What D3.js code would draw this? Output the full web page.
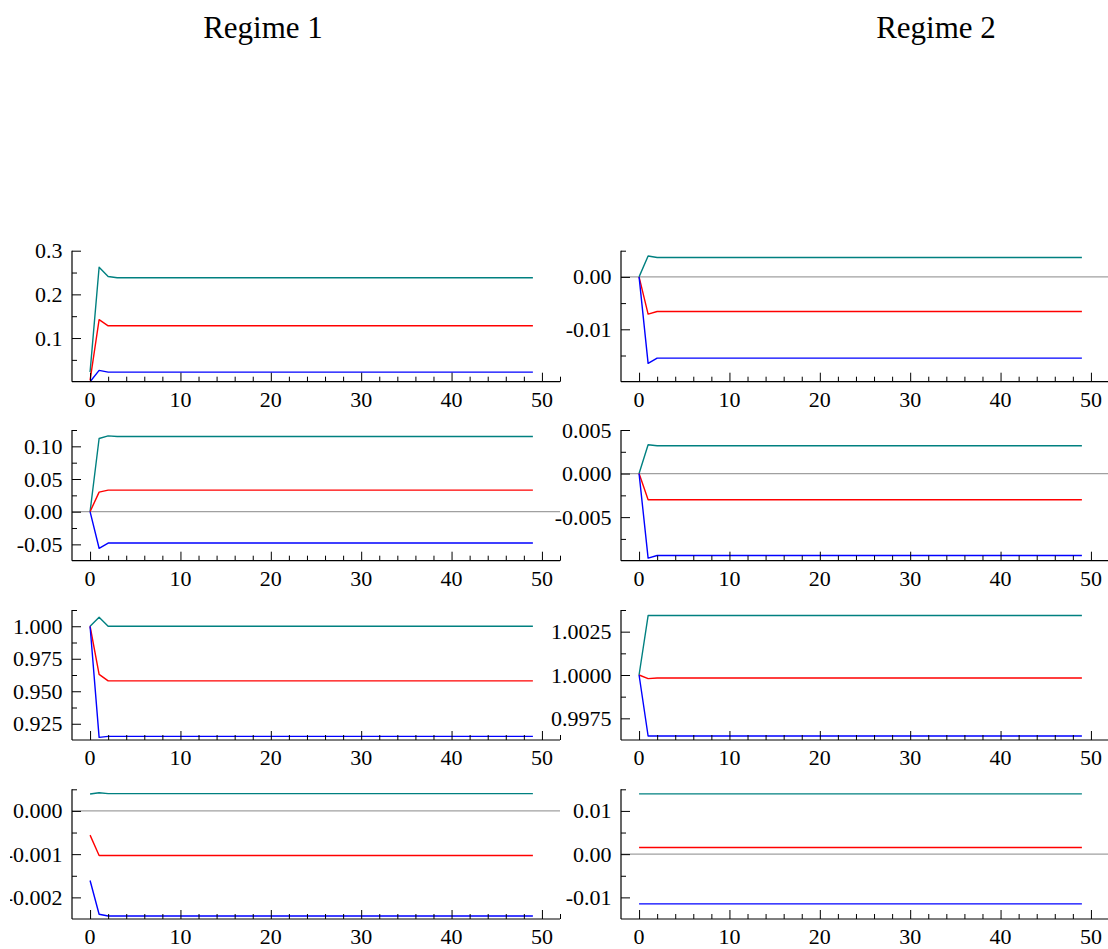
<!DOCTYPE html>
<html>
<head>
<meta charset="utf-8">
<script src="https://cdn.jsdelivr.net/npm/d3@7"></script>
<style>
  html, body { margin: 0; padding: 0; background: #fff; }
  svg { display: block; font-family: "Liberation Serif", "Times New Roman", serif; }
</style>
</head>
<body>
<script>
// ---- data: impulse responses, horizons 0..49 ----
const horizons = d3.range(0, 50);
const columnTitles = ["Regime 1", "Regime 2"];
const seriesNames = ["upper", "mid", "lower"];
const seriesColors = ["#008080", "#ff0000", "#0000ff"];

// Regime 1, row 1
const r1p1Upper = [
  0.022,0.262,0.241,0.238,0.238,0.238,0.238,0.238,0.238,0.238,
  0.238,0.238,0.238,0.238,0.238,0.238,0.238,0.238,0.238,0.238,
  0.238,0.238,0.238,0.238,0.238,0.238,0.238,0.238,0.238,0.238,
  0.238,0.238,0.238,0.238,0.238,0.238,0.238,0.238,0.238,0.238,
  0.238,0.238,0.238,0.238,0.238,0.238,0.238,0.238,0.238,0.238];
const r1p1Mid = [
  0.003,0.142,0.128,0.128,0.128,0.128,0.128,0.128,0.128,0.128,
  0.128,0.128,0.128,0.128,0.128,0.128,0.128,0.128,0.128,0.128,
  0.128,0.128,0.128,0.128,0.128,0.128,0.128,0.128,0.128,0.128,
  0.128,0.128,0.128,0.128,0.128,0.128,0.128,0.128,0.128,0.128,
  0.128,0.128,0.128,0.128,0.128,0.128,0.128,0.128,0.128,0.128];
const r1p1Lower = [
  0.000,0.026,0.022,0.022,0.022,0.022,0.022,0.022,0.022,0.022,
  0.022,0.022,0.022,0.022,0.022,0.022,0.022,0.022,0.022,0.022,
  0.022,0.022,0.022,0.022,0.022,0.022,0.022,0.022,0.022,0.022,
  0.022,0.022,0.022,0.022,0.022,0.022,0.022,0.022,0.022,0.022,
  0.022,0.022,0.022,0.022,0.022,0.022,0.022,0.022,0.022,0.022];

// Regime 1, row 2
const r1p2Upper = [
  0.000,0.112,0.116,0.115,0.115,0.115,0.115,0.115,0.115,0.115,
  0.115,0.115,0.115,0.115,0.115,0.115,0.115,0.115,0.115,0.115,
  0.115,0.115,0.115,0.115,0.115,0.115,0.115,0.115,0.115,0.115,
  0.115,0.115,0.115,0.115,0.115,0.115,0.115,0.115,0.115,0.115,
  0.115,0.115,0.115,0.115,0.115,0.115,0.115,0.115,0.115,0.115];
const r1p2Mid = [
  0.000,0.030,0.033,0.033,0.033,0.033,0.033,0.033,0.033,0.033,
  0.033,0.033,0.033,0.033,0.033,0.033,0.033,0.033,0.033,0.033,
  0.033,0.033,0.033,0.033,0.033,0.033,0.033,0.033,0.033,0.033,
  0.033,0.033,0.033,0.033,0.033,0.033,0.033,0.033,0.033,0.033,
  0.033,0.033,0.033,0.033,0.033,0.033,0.033,0.033,0.033,0.033];
const r1p2Lower = [
  0.000,-0.056,-0.048,-0.048,-0.048,-0.048,-0.048,-0.048,-0.048,-0.048,
  -0.048,-0.048,-0.048,-0.048,-0.048,-0.048,-0.048,-0.048,-0.048,-0.048,
  -0.048,-0.048,-0.048,-0.048,-0.048,-0.048,-0.048,-0.048,-0.048,-0.048,
  -0.048,-0.048,-0.048,-0.048,-0.048,-0.048,-0.048,-0.048,-0.048,-0.048,
  -0.048,-0.048,-0.048,-0.048,-0.048,-0.048,-0.048,-0.048,-0.048,-0.048];

// Regime 1, row 3
const r1p3Upper = [
  1.000,1.007,1.000,1.000,1.000,1.000,1.000,1.000,1.000,1.000,
  1.000,1.000,1.000,1.000,1.000,1.000,1.000,1.000,1.000,1.000,
  1.000,1.000,1.000,1.000,1.000,1.000,1.000,1.000,1.000,1.000,
  1.000,1.000,1.000,1.000,1.000,1.000,1.000,1.000,1.000,1.000,
  1.000,1.000,1.000,1.000,1.000,1.000,1.000,1.000,1.000,1.000];
const r1p3Mid = [
  1.000,0.963,0.958,0.958,0.958,0.958,0.958,0.958,0.958,0.958,
  0.958,0.958,0.958,0.958,0.958,0.958,0.958,0.958,0.958,0.958,
  0.958,0.958,0.958,0.958,0.958,0.958,0.958,0.958,0.958,0.958,
  0.958,0.958,0.958,0.958,0.958,0.958,0.958,0.958,0.958,0.958,
  0.958,0.958,0.958,0.958,0.958,0.958,0.958,0.958,0.958,0.958];
const r1p3Lower = [
  1.0000,0.9145,0.9153,0.9153,0.9153,0.9153,0.9153,0.9153,0.9153,0.9153,
  0.9153,0.9153,0.9153,0.9153,0.9153,0.9153,0.9153,0.9153,0.9153,0.9153,
  0.9153,0.9153,0.9153,0.9153,0.9153,0.9153,0.9153,0.9153,0.9153,0.9153,
  0.9153,0.9153,0.9153,0.9153,0.9153,0.9153,0.9153,0.9153,0.9153,0.9153,
  0.9153,0.9153,0.9153,0.9153,0.9153,0.9153,0.9153,0.9153,0.9153,0.9153];

// Regime 1, row 4
const r1p4Upper = [
  0.00039,0.00042,0.00040,0.00040,0.00040,0.00040,0.00040,0.00040,0.00040,0.00040,
  0.00040,0.00040,0.00040,0.00040,0.00040,0.00040,0.00040,0.00040,0.00040,0.00040,
  0.00040,0.00040,0.00040,0.00040,0.00040,0.00040,0.00040,0.00040,0.00040,0.00040,
  0.00040,0.00040,0.00040,0.00040,0.00040,0.00040,0.00040,0.00040,0.00040,0.00040,
  0.00040,0.00040,0.00040,0.00040,0.00040,0.00040,0.00040,0.00040,0.00040,0.00040];
const r1p4Mid = [
  -0.00056,-0.00103,-0.00103,-0.00103,-0.00103,-0.00103,-0.00103,-0.00103,-0.00103,-0.00103,
  -0.00103,-0.00103,-0.00103,-0.00103,-0.00103,-0.00103,-0.00103,-0.00103,-0.00103,-0.00103,
  -0.00103,-0.00103,-0.00103,-0.00103,-0.00103,-0.00103,-0.00103,-0.00103,-0.00103,-0.00103,
  -0.00103,-0.00103,-0.00103,-0.00103,-0.00103,-0.00103,-0.00103,-0.00103,-0.00103,-0.00103,
  -0.00103,-0.00103,-0.00103,-0.00103,-0.00103,-0.00103,-0.00103,-0.00103,-0.00103,-0.00103];
const r1p4Lower = [
  -0.00161,-0.00239,-0.00243,-0.00243,-0.00243,-0.00243,-0.00243,-0.00243,-0.00243,-0.00243,
  -0.00243,-0.00243,-0.00243,-0.00243,-0.00243,-0.00243,-0.00243,-0.00243,-0.00243,-0.00243,
  -0.00243,-0.00243,-0.00243,-0.00243,-0.00243,-0.00243,-0.00243,-0.00243,-0.00243,-0.00243,
  -0.00243,-0.00243,-0.00243,-0.00243,-0.00243,-0.00243,-0.00243,-0.00243,-0.00243,-0.00243,
  -0.00243,-0.00243,-0.00243,-0.00243,-0.00243,-0.00243,-0.00243,-0.00243,-0.00243,-0.00243];

// Regime 2, row 1
const r2p1Upper = [
  0.0000,0.0040,0.0037,0.0037,0.0037,0.0037,0.0037,0.0037,0.0037,0.0037,
  0.0037,0.0037,0.0037,0.0037,0.0037,0.0037,0.0037,0.0037,0.0037,0.0037,
  0.0037,0.0037,0.0037,0.0037,0.0037,0.0037,0.0037,0.0037,0.0037,0.0037,
  0.0037,0.0037,0.0037,0.0037,0.0037,0.0037,0.0037,0.0037,0.0037,0.0037,
  0.0037,0.0037,0.0037,0.0037,0.0037,0.0037,0.0037,0.0037,0.0037,0.0037];
const r2p1Mid = [
  0.0000,-0.0071,-0.0066,-0.0066,-0.0066,-0.0066,-0.0066,-0.0066,-0.0066,-0.0066,
  -0.0066,-0.0066,-0.0066,-0.0066,-0.0066,-0.0066,-0.0066,-0.0066,-0.0066,-0.0066,
  -0.0066,-0.0066,-0.0066,-0.0066,-0.0066,-0.0066,-0.0066,-0.0066,-0.0066,-0.0066,
  -0.0066,-0.0066,-0.0066,-0.0066,-0.0066,-0.0066,-0.0066,-0.0066,-0.0066,-0.0066,
  -0.0066,-0.0066,-0.0066,-0.0066,-0.0066,-0.0066,-0.0066,-0.0066,-0.0066,-0.0066];
const r2p1Lower = [
  0.0000,-0.0165,-0.0155,-0.0155,-0.0155,-0.0155,-0.0155,-0.0155,-0.0155,-0.0155,
  -0.0155,-0.0155,-0.0155,-0.0155,-0.0155,-0.0155,-0.0155,-0.0155,-0.0155,-0.0155,
  -0.0155,-0.0155,-0.0155,-0.0155,-0.0155,-0.0155,-0.0155,-0.0155,-0.0155,-0.0155,
  -0.0155,-0.0155,-0.0155,-0.0155,-0.0155,-0.0155,-0.0155,-0.0155,-0.0155,-0.0155,
  -0.0155,-0.0155,-0.0155,-0.0155,-0.0155,-0.0155,-0.0155,-0.0155,-0.0155,-0.0155];

// Regime 2, row 2
const r2p2Upper = [
  0.0000,0.0033,0.0032,0.0032,0.0032,0.0032,0.0032,0.0032,0.0032,0.0032,
  0.0032,0.0032,0.0032,0.0032,0.0032,0.0032,0.0032,0.0032,0.0032,0.0032,
  0.0032,0.0032,0.0032,0.0032,0.0032,0.0032,0.0032,0.0032,0.0032,0.0032,
  0.0032,0.0032,0.0032,0.0032,0.0032,0.0032,0.0032,0.0032,0.0032,0.0032,
  0.0032,0.0032,0.0032,0.0032,0.0032,0.0032,0.0032,0.0032,0.0032,0.0032];
const r2p2Mid = [
  0.0000,-0.0030,-0.0030,-0.0030,-0.0030,-0.0030,-0.0030,-0.0030,-0.0030,-0.0030,
  -0.0030,-0.0030,-0.0030,-0.0030,-0.0030,-0.0030,-0.0030,-0.0030,-0.0030,-0.0030,
  -0.0030,-0.0030,-0.0030,-0.0030,-0.0030,-0.0030,-0.0030,-0.0030,-0.0030,-0.0030,
  -0.0030,-0.0030,-0.0030,-0.0030,-0.0030,-0.0030,-0.0030,-0.0030,-0.0030,-0.0030,
  -0.0030,-0.0030,-0.0030,-0.0030,-0.0030,-0.0030,-0.0030,-0.0030,-0.0030,-0.0030];
const r2p2Lower = [
  0.0000,-0.0097,-0.0094,-0.0094,-0.0094,-0.0094,-0.0094,-0.0094,-0.0094,-0.0094,
  -0.0094,-0.0094,-0.0094,-0.0094,-0.0094,-0.0094,-0.0094,-0.0094,-0.0094,-0.0094,
  -0.0094,-0.0094,-0.0094,-0.0094,-0.0094,-0.0094,-0.0094,-0.0094,-0.0094,-0.0094,
  -0.0094,-0.0094,-0.0094,-0.0094,-0.0094,-0.0094,-0.0094,-0.0094,-0.0094,-0.0094,
  -0.0094,-0.0094,-0.0094,-0.0094,-0.0094,-0.0094,-0.0094,-0.0094,-0.0094,-0.0094];

// Regime 2, row 3
const r2p3Upper = [
  1.00000,1.00343,1.00343,1.00343,1.00343,1.00343,1.00343,1.00343,1.00343,1.00343,
  1.00343,1.00343,1.00343,1.00343,1.00343,1.00343,1.00343,1.00343,1.00343,1.00343,
  1.00343,1.00343,1.00343,1.00343,1.00343,1.00343,1.00343,1.00343,1.00343,1.00343,
  1.00343,1.00343,1.00343,1.00343,1.00343,1.00343,1.00343,1.00343,1.00343,1.00343,
  1.00343,1.00343,1.00343,1.00343,1.00343,1.00343,1.00343,1.00343,1.00343,1.00343];
const r2p3Mid = [
  1.00000,0.99979,0.99983,0.99983,0.99983,0.99983,0.99983,0.99983,0.99983,0.99983,
  0.99983,0.99983,0.99983,0.99983,0.99983,0.99983,0.99983,0.99983,0.99983,0.99983,
  0.99983,0.99983,0.99983,0.99983,0.99983,0.99983,0.99983,0.99983,0.99983,0.99983,
  0.99983,0.99983,0.99983,0.99983,0.99983,0.99983,0.99983,0.99983,0.99983,0.99983,
  0.99983,0.99983,0.99983,0.99983,0.99983,0.99983,0.99983,0.99983,0.99983,0.99983];
const r2p3Lower = [
  1.00000,0.99648,0.99648,0.99648,0.99648,0.99648,0.99648,0.99648,0.99648,0.99648,
  0.99648,0.99648,0.99648,0.99648,0.99648,0.99648,0.99648,0.99648,0.99648,0.99648,
  0.99648,0.99648,0.99648,0.99648,0.99648,0.99648,0.99648,0.99648,0.99648,0.99648,
  0.99648,0.99648,0.99648,0.99648,0.99648,0.99648,0.99648,0.99648,0.99648,0.99648,
  0.99648,0.99648,0.99648,0.99648,0.99648,0.99648,0.99648,0.99648,0.99648,0.99648];

// Regime 2, row 4
const r2p4Upper = [
  0.01395,0.01395,0.01395,0.01395,0.01395,0.01395,0.01395,0.01395,0.01395,0.01395,
  0.01395,0.01395,0.01395,0.01395,0.01395,0.01395,0.01395,0.01395,0.01395,0.01395,
  0.01395,0.01395,0.01395,0.01395,0.01395,0.01395,0.01395,0.01395,0.01395,0.01395,
  0.01395,0.01395,0.01395,0.01395,0.01395,0.01395,0.01395,0.01395,0.01395,0.01395,
  0.01395,0.01395,0.01395,0.01395,0.01395,0.01395,0.01395,0.01395,0.01395,0.01395];
const r2p4Mid = [
  0.00154,0.00154,0.00154,0.00154,0.00154,0.00154,0.00154,0.00154,0.00154,0.00154,
  0.00154,0.00154,0.00154,0.00154,0.00154,0.00154,0.00154,0.00154,0.00154,0.00154,
  0.00154,0.00154,0.00154,0.00154,0.00154,0.00154,0.00154,0.00154,0.00154,0.00154,
  0.00154,0.00154,0.00154,0.00154,0.00154,0.00154,0.00154,0.00154,0.00154,0.00154,
  0.00154,0.00154,0.00154,0.00154,0.00154,0.00154,0.00154,0.00154,0.00154,0.00154];
const r2p4Lower = [
  -0.0115,-0.0115,-0.0115,-0.0115,-0.0115,-0.0115,-0.0115,-0.0115,-0.0115,-0.0115,
  -0.0115,-0.0115,-0.0115,-0.0115,-0.0115,-0.0115,-0.0115,-0.0115,-0.0115,-0.0115,
  -0.0115,-0.0115,-0.0115,-0.0115,-0.0115,-0.0115,-0.0115,-0.0115,-0.0115,-0.0115,
  -0.0115,-0.0115,-0.0115,-0.0115,-0.0115,-0.0115,-0.0115,-0.0115,-0.0115,-0.0115,
  -0.0115,-0.0115,-0.0115,-0.0115,-0.0115,-0.0115,-0.0115,-0.0115,-0.0115,-0.0115];

// ---- axis ranges and tick labels ----
const xDomain = [-2, 52];
const xMajorTicks = [0, 10, 20, 30, 40, 50];
const xMinorTicks = [2, 4, 6, 8, 12, 14, 16, 18, 22, 24, 26, 28, 32, 34, 36, 38, 42, 44, 46, 48, 52];

const r1p1Domain = [0, 0.3],        r1p1Ticks = [0.1, 0.2, 0.3],            r1p1Minor = [0.05, 0.15, 0.25],                 r1p1Fmt = ".1f";
const r1p2Domain = [-0.075, 0.125], r1p2Ticks = [-0.05, 0, 0.05, 0.10],      r1p2Minor = [-0.025, 0.025, 0.075, 0.125],      r1p2Fmt = ".2f";
const r1p3Domain = [0.9125, 1.0125],r1p3Ticks = [0.925, 0.95, 0.975, 1.0],   r1p3Minor = [0.9375, 0.9625, 0.9875, 1.0125],   r1p3Fmt = ".3f";
const r1p4Domain = [-0.0025, 0.0005],r1p4Ticks = [-0.002, -0.001, 0],        r1p4Minor = [-0.0015, -0.0005, 0.0005],          r1p4Fmt = ".3f";
const r2p1Domain = [-0.02, 0.005],  r2p1Ticks = [-0.01, 0],                  r2p1Minor = [-0.015, -0.005, 0.005],            r2p1Fmt = ".2f";
const r2p2Domain = [-0.01, 0.005],  r2p2Ticks = [-0.005, 0, 0.005],          r2p2Minor = [-0.0075, -0.0025, 0.0025],         r2p2Fmt = ".3f";
const r2p3Domain = [0.99625, 1.00375], r2p3Ticks = [0.9975, 1.0, 1.0025],    r2p3Minor = [0.99875, 1.00125, 1.00375],        r2p3Fmt = ".4f";
const r2p4Domain = [-0.015, 0.015], r2p4Ticks = [-0.01, 0, 0.01],            r2p4Minor = [-0.005, 0.005, 0.015],             r2p4Fmt = ".2f";

// ---- panel table ----
const panels = [
  {col: 0, row: 0, series: [r1p1Upper, r1p1Mid, r1p1Lower], domain: r1p1Domain, ticks: r1p1Ticks, minor: r1p1Minor, fmt: r1p1Fmt},
  {col: 0, row: 1, series: [r1p2Upper, r1p2Mid, r1p2Lower], domain: r1p2Domain, ticks: r1p2Ticks, minor: r1p2Minor, fmt: r1p2Fmt},
  {col: 0, row: 2, series: [r1p3Upper, r1p3Mid, r1p3Lower], domain: r1p3Domain, ticks: r1p3Ticks, minor: r1p3Minor, fmt: r1p3Fmt},
  {col: 0, row: 3, series: [r1p4Upper, r1p4Mid, r1p4Lower], domain: r1p4Domain, ticks: r1p4Ticks, minor: r1p4Minor, fmt: r1p4Fmt},
  {col: 1, row: 0, series: [r2p1Upper, r2p1Mid, r2p1Lower], domain: r2p1Domain, ticks: r2p1Ticks, minor: r2p1Minor, fmt: r2p1Fmt},
  {col: 1, row: 1, series: [r2p2Upper, r2p2Mid, r2p2Lower], domain: r2p2Domain, ticks: r2p2Ticks, minor: r2p2Minor, fmt: r2p2Fmt},
  {col: 1, row: 2, series: [r2p3Upper, r2p3Mid, r2p3Lower], domain: r2p3Domain, ticks: r2p3Ticks, minor: r2p3Minor, fmt: r2p3Fmt},
  {col: 1, row: 3, series: [r2p4Upper, r2p4Mid, r2p4Lower], domain: r2p4Domain, ticks: r2p4Ticks, minor: r2p4Minor, fmt: r2p4Fmt},
];

// ---- layout ----
const W = 1108, H = 949;
const colX = [[72, 560], [621, 1109]];
const rowY = [[250.7, 381.7], [430, 560.7], [610, 740], [789.3, 919]];
const titleX = [263, 936], titleY = 37.5;
const majorLen = 9, minorLen = 5;
const tickFont = 22;

const svg = d3.select("body").append("svg")
  .attr("width", W).attr("height", H).attr("viewBox", `0 0 ${W} ${H}`);

// the figure is trimmed along its left edge
svg.append("defs").append("clipPath").attr("id", "figClip")
  .append("rect").attr("x", 10).attr("y", 0).attr("width", W - 10).attr("height", H);
const root = svg.append("g").attr("clip-path", "url(#figClip)");

root.selectAll("text.title").data(columnTitles).join("text")
  .attr("class", "title")
  .attr("x", (d, i) => titleX[i]).attr("y", titleY)
  .attr("text-anchor", "middle")
  .attr("font-size", 31).attr("fill", "#000")
  .text(d => d);

panels.forEach(p => {
  const [x0, x1] = colX[p.col];
  const [yTop, yBot] = rowY[p.row];
  const x = d3.scaleLinear().domain(xDomain).range([x0, x1]);
  const y = d3.scaleLinear().domain(p.domain).range([yBot, yTop]);
  const g = root.append("g");

  // zero reference line
  if (p.domain[0] < 0 && p.domain[1] > 0) {
    g.append("line")
      .attr("x1", x0).attr("x2", x1).attr("y1", y(0)).attr("y2", y(0))
      .attr("stroke", "#a0a0a0").attr("stroke-width", 1.2);
  }

  // response paths
  const line = d3.line().x((d, i) => x(horizons[i])).y(d => y(d));
  g.selectAll("path.series").data(p.series).join("path")
    .attr("class", "series")
    .attr("d", line)
    .attr("fill", "none")
    .attr("stroke", (d, i) => seriesColors[i])
    .attr("stroke-width", 1.4)
    .attr("stroke-linejoin", "round");

  // x axis with inward ticks
  const xAxis = d3.axisTop(x).tickValues(xMajorTicks).tickSize(majorLen).tickFormat("");
  const xMinor = d3.axisTop(x).tickValues(xMinorTicks).tickSize(minorLen).tickFormat("");
  const gx = g.append("g").attr("transform", `translate(0,${yBot})`).call(xAxis);
  g.append("g").attr("transform", `translate(0,${yBot})`).call(xMinor).select(".domain").remove();
  gx.select(".domain").attr("d", `M${x0},0H${x1}`);
  g.selectAll("text.xl").data(xMajorTicks).join("text")
    .attr("class", "xl")
    .attr("x", d => x(d)).attr("y", yBot + 25)
    .attr("text-anchor", "middle").attr("font-size", tickFont).attr("fill", "#000")
    .text(d => d);

  // y axis with inward ticks
  const yAxis = d3.axisRight(y).tickValues(p.ticks).tickSize(majorLen).tickFormat("");
  const yMinor = d3.axisRight(y).tickValues(p.minor).tickSize(minorLen).tickFormat("");
  const gy = g.append("g").attr("transform", `translate(${x0},0)`).call(yAxis);
  gy.select(".domain").attr("d", `M0,${yTop}V${yBot}`);
  g.append("g").attr("transform", `translate(${x0},0)`).call(yMinor).select(".domain").remove();
  const f = d3.format(p.fmt);
  g.selectAll("text.yl").data(p.ticks).join("text")
    .attr("class", "yl")
    .attr("x", x0 - 9.5).attr("y", d => y(d) + 7.5)
    .attr("text-anchor", "end").attr("font-size", tickFont).attr("fill", "#000")
    .text(d => f(d).replace("−", "-"));

  g.selectAll(".tick line").attr("stroke", "#000").attr("stroke-width", 1);
  g.selectAll(".domain").attr("stroke", "#000").attr("stroke-width", 1.2);
});
</script>
</body>
</html>
